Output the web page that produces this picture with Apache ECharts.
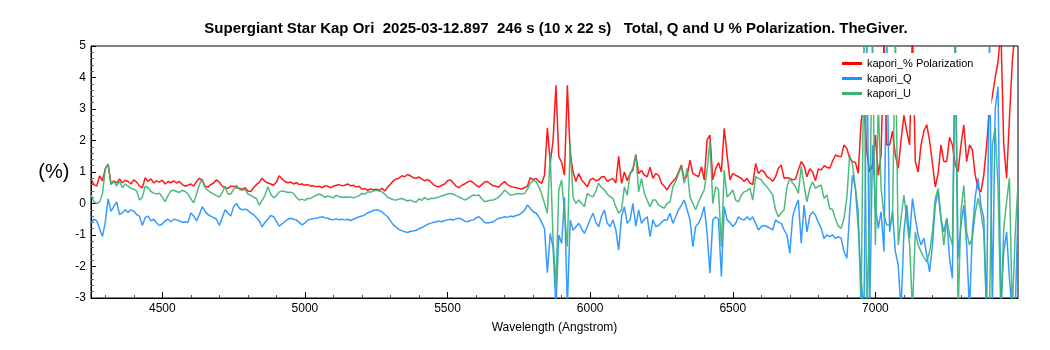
<!DOCTYPE html>
<html>
<head>
<meta charset="utf-8">
<script src="https://cdn.jsdelivr.net/npm/echarts@6/dist/echarts.min.js"></script>
<style>html,body{margin:0;padding:0;background:#fff}#chart{width:1050px;height:350px}</style>
</head>
<body>
<div id="chart"></div>
<script>
// Wavelength sampling grid (Angstrom)
const wlStart = 4250, wlStep = 10;

// % Polarization (total)
const polarization = [
0.78,0.6,0.55,0.88,0.72,1.1,1.25,0.62,0.72,0.65,
0.78,0.66,0.74,0.7,0.62,0.75,0.68,0.55,0.5,0.82,
0.7,0.78,0.65,0.72,0.68,0.74,0.62,0.7,0.66,0.72,
0.65,0.7,0.6,0.55,0.58,0.62,0.55,0.7,0.8,0.72,
0.55,0.52,0.6,0.65,0.75,0.68,0.55,0.5,0.48,0.55,
0.55,0.5,0.48,0.45,0.5,0.4,0.38,0.5,0.6,0.68,
0.8,0.7,0.65,0.62,0.58,0.68,0.88,0.78,0.7,0.66,
0.68,0.62,0.66,0.6,0.62,0.58,0.6,0.55,0.56,0.53,
0.55,0.5,0.56,0.55,0.5,0.55,0.58,0.6,0.56,0.58,
0.62,0.56,0.58,0.52,0.55,0.45,0.48,0.42,0.46,0.44,
0.45,0.42,0.48,0.4,0.52,0.62,0.72,0.78,0.8,0.88,
0.85,0.92,0.88,0.82,0.8,0.84,0.78,0.72,0.76,0.7,
0.6,0.55,0.53,0.58,0.62,0.72,0.75,0.66,0.55,0.5,
0.58,0.62,0.68,0.72,0.66,0.58,0.52,0.6,0.68,0.7,
0.62,0.56,0.55,0.52,0.62,0.7,0.6,0.55,0.52,0.5,
0.48,0.46,0.5,0.55,0.82,0.75,0.8,0.7,0.64,0.9,
2.4,1.3,2.0,3.75,1.5,1.3,0.9,3.75,1.6,1.0,
0.7,0.95,0.75,0.64,0.53,0.75,0.8,0.72,0.75,0.85,
0.85,0.7,0.75,0.8,0.65,1.5,0.64,1.0,0.72,0.95,
1.06,1.55,0.95,1.05,0.9,0.85,1.15,0.8,0.95,0.9,
0.64,0.55,0.43,0.6,0.7,0.8,1.0,1.22,0.75,0.9,
1.38,0.95,0.9,0.85,1.17,0.75,2.02,2.17,0.75,1.1,
1.3,1.0,2.39,1.55,0.75,0.95,0.9,0.85,0.8,0.7,
0.8,0.65,0.6,1.27,0.95,1.06,1.0,0.85,0.8,0.7,
0.85,1.12,1.22,0.8,0.82,0.8,0.75,0.78,1.06,1.33,
1.2,0.85,1.1,1.0,0.72,1.1,1.06,1.2,1.15,1.12,
1.35,1.54,1.5,1.48,1.86,1.75,1.43,1.33,1.3,0.96,
2.6,3.2,1.65,1.0,1.22,2.17,0.9,1.54,5.2,1.86,
1.86,2.3,1.54,1.12,2.0,2.8,2.3,1.86,5.5,1.33,
1.0,1.86,2.3,2.5,2.0,1.27,0.53,0.96,1.86,1.33,
1.33,2.1,1.86,1.22,1.01,1.86,2.5,1.33,1.86,1.7,
0.9,0.48,0.37,0.9,1.86,3.0,3.4,4.0,4.5,5.5,
1.86,0.8,2.7,4.5,5.5,5.2
];

// Q %
const stokesQ = [
-0.62,-0.5,-0.55,-0.8,-1.05,-0.6,0.15,-0.25,-0.1,0.05,
-0.35,-0.3,-0.2,-0.28,-0.2,-0.25,-0.35,-0.4,-0.7,-0.45,
-0.4,-0.55,-0.5,-0.62,-0.7,-0.65,-0.55,-0.5,-0.58,-0.5,
-0.52,-0.55,-0.6,-0.58,-0.6,-0.3,-0.4,-0.55,-0.35,-0.1,
-0.25,-0.35,-0.4,-0.45,-0.5,-0.7,-0.45,-0.2,-0.3,-0.4,
-0.1,0.0,-0.15,-0.2,-0.18,-0.22,-0.3,-0.35,-0.45,-0.55,
-0.74,-0.6,-0.5,-0.38,-0.42,-0.57,-0.72,-0.65,-0.57,-0.5,
-0.47,-0.5,-0.52,-0.6,-0.68,-0.62,-0.52,-0.5,-0.48,-0.47,
-0.44,-0.42,-0.45,-0.47,-0.5,-0.52,-0.48,-0.52,-0.5,-0.52,
-0.5,-0.54,-0.5,-0.46,-0.42,-0.4,-0.36,-0.3,-0.26,-0.22,
-0.2,-0.22,-0.26,-0.35,-0.42,-0.55,-0.68,-0.75,-0.82,-0.86,
-0.9,-0.92,-0.88,-0.87,-0.85,-0.8,-0.76,-0.72,-0.66,-0.63,
-0.6,-0.58,-0.56,-0.58,-0.54,-0.52,-0.5,-0.53,-0.48,-0.47,
-0.5,-0.56,-0.58,-0.54,-0.52,-0.46,-0.42,-0.5,-0.6,-0.62,
-0.6,-0.58,-0.52,-0.47,-0.45,-0.42,-0.44,-0.4,-0.42,-0.38,
-0.36,-0.3,-0.22,-0.05,-0.15,-0.26,-0.3,-0.42,-0.6,-0.8,
-2.2,-0.95,-1.4,-3.3,-1.0,-1.27,0.2,-3.3,-0.52,-0.85,
-0.74,-0.63,-0.8,-0.95,-0.74,-0.5,-0.31,-0.6,-0.74,-0.4,
-0.21,-0.63,-0.73,-0.52,-0.84,-1.48,-0.42,-0.1,-0.63,-0.52,
0.0,-0.73,-0.2,-0.63,-0.5,-0.42,-1.05,-0.52,-0.73,-0.7,
-0.6,-0.52,-0.52,-0.31,-0.63,-0.42,-0.2,-0.05,0.11,-0.2,
-0.52,-1.37,-0.73,-0.63,-0.42,-0.1,-0.94,-2.21,-0.52,-0.42,
-0.5,-2.32,-0.1,-0.52,-0.6,-0.73,-0.63,-0.42,-0.5,-0.52,
-0.42,-0.52,-0.42,-0.63,-0.84,-0.73,-0.7,-0.73,-0.78,-0.84,
-0.52,-0.6,-0.63,-0.84,-1.0,-1.58,-0.42,-0.1,0.11,-1.26,
-0.05,-0.9,-0.4,-0.26,-0.37,-0.6,-0.79,-1.11,-1.0,-1.05,
-1.0,-1.11,-1.05,-1.11,-1.53,-1.74,-0.26,0.9,0.48,-0.79,
-2.4,-3.5,5.5,-3.5,1.86,-0.05,-0.79,-0.26,-1.53,5.3,
-0.9,-0.26,-1.53,-1.95,-3.4,-0.9,-0.05,-1.11,0.16,-0.47,
-1.0,-1.32,-1.1,-1.64,-2.17,-1.32,-0.05,0.37,-0.5,-0.9,
-0.47,-1.74,-2.38,5.5,-1.74,-0.68,-0.05,-1.32,-3.4,-0.9,
0.2,0.8,-0.05,-0.47,-3.5,5.5,-3.5,3.0,3.7,-3.4,
-1.53,-0.9,-2.38,-3.5,-3.5,-0.26
];

// U %
const stokesU = [
0.27,0.05,0.0,0.05,0.3,1.1,1.25,0.6,0.7,0.55,
0.7,0.5,0.62,0.55,0.48,0.45,0.4,0.11,0.2,0.55,
0.5,0.38,0.33,0.3,0.33,0.2,0.06,0.25,0.4,0.42,
0.38,0.35,0.42,0.38,0.3,0.15,0.02,0.3,0.6,0.78,
0.5,0.42,0.35,0.3,0.25,0.2,0.35,0.55,0.3,0.3,
0.45,0.58,0.45,0.42,0.45,0.3,0.26,0.2,0.16,-0.05,
0.1,0.26,0.53,0.3,0.18,0.25,0.37,0.4,0.38,0.35,
0.36,0.32,0.2,0.11,0.14,0.1,0.16,0.16,0.22,0.26,
0.3,0.26,0.2,0.24,0.21,0.18,0.26,0.22,0.2,0.21,
0.2,0.21,0.18,0.21,0.25,0.32,0.3,0.37,0.36,0.4,
0.42,0.4,0.37,0.3,0.2,0.16,0.12,0.11,0.14,0.16,
0.12,0.08,0.11,0.06,0.05,0.15,0.1,0.2,0.12,0.16,
0.16,0.18,0.21,0.24,0.27,0.3,0.32,0.3,0.25,0.21,
0.16,0.11,0.15,0.22,0.27,0.25,0.27,0.15,0.06,0.08,
0.1,0.11,0.15,0.21,0.3,0.43,0.35,0.27,0.28,0.3,
0.32,0.3,0.32,0.45,0.64,0.72,0.7,0.53,0.3,0.0,
-0.31,1.59,-1.16,-2.64,0.43,0.75,-0.3,-1.37,1.9,0.2,
0.0,0.11,0.0,-0.1,0.32,0.25,0.21,0.4,0.64,0.5,
0.43,0.3,0.21,0.16,-0.1,-0.31,-0.2,0.53,0.26,0.95,
1.12,1.55,0.37,0.8,0.32,0.1,-0.1,0.11,0.11,-0.05,
-0.1,-0.15,0.0,0.05,0.53,0.7,0.95,1.17,0.64,1.12,
0.21,0.0,-0.2,0.05,0.25,0.43,1.06,1.96,0.0,0.53,
0.45,-1.37,1.06,0.21,0.3,0.43,0.11,0.05,0.27,0.37,
0.4,0.48,0.11,0.85,0.8,0.75,0.62,0.53,0.4,0.27,
-0.2,-0.42,-0.3,-0.2,0.53,0.8,0.65,0.53,0.32,1.17,
0.58,0.05,0.48,0.69,0.48,0.55,0.58,0.16,0.27,-0.16,
-0.2,-0.5,-0.72,-0.79,-0.47,0.2,1.54,1.22,0.48,-0.26,
-3.5,5.5,-3.5,-0.26,5.5,-1.32,3.2,0.48,-0.37,-0.68,
-0.68,-0.5,5.5,-1.32,-0.47,0.27,-0.5,-1.32,-3.4,-0.9,
-1.32,-1.53,-1.7,-1.85,-1.53,-0.9,0.16,0.48,-0.47,-1.32,
-0.47,-1.0,-1.32,5.5,-3.5,-0.26,0.58,-0.9,-1.32,-1.1,
-0.3,0.16,-0.26,-0.9,-3.5,-3.4,1.86,2.4,0.5,-3.5,
-0.79,0.06,0.8,-3.5,-1.0,0.6
];

const seriesNames = ['kapori_% Polarization', 'kapori_Q', 'kapori_U'];
const seriesColors = ['#ff0000', '#1e90ff', '#3cb371'];
const xMajorTicks = [4500, 5000, 5500, 6000, 6500, 7000];
const xMinorTicks = [4300,4400,4600,4700,4800,4900,5100,5200,5300,5400,5600,5700,5800,5900,6100,6200,6300,6400,6600,6700,6800,6900,7100,7200,7300,7400];
const titleText = 'Supergiant Star Kap Ori  2025-03-12.897  246 s (10 x 22 s)   Total, Q and U % Polarization. TheGiver.';

if (polarization.length !== stokesQ.length || stokesQ.length !== stokesU.length) {
  throw new Error('length mismatch ' + polarization.length + ' ' + stokesQ.length + ' ' + stokesU.length);
}
const wavelengths = polarization.map((_, i) => wlStart + i * wlStep);

const FONT = 'Liberation Sans, Arial, sans-serif';
const chart = echarts.init(document.getElementById('chart'), null, {renderer: 'canvas'});

const mk = (arr) => arr.map((v, i) => [wavelengths[i], v]);
const allData = [polarization, stokesQ, stokesU];

const option = {
  animation: false,
  backgroundColor: '#ffffff',
  title: {
    text: titleText,
    left: 551, top: 16, textAlign: 'center',
    textStyle: {fontFamily: FONT, fontSize: 15, fontWeight: 'bold', color: '#000'}
  },
  grid: {left: 91, right: 32, top: 46, bottom: 52, show: true, borderColor: '#000', borderWidth: 1, backgroundColor: 'transparent'},
  legend: {
    orient: 'vertical', left: 835, top: 53,
    padding: [5, 18, 16, 7],
    backgroundColor: '#ffffff',
    borderWidth: 0,
    z: 50, zlevel: 0,
    itemWidth: 20, itemHeight: 12, itemGap: 4,
    icon: 'path://M0,0 L20,0 L20,3 L0,3 Z',
    textStyle: {fontFamily: FONT, fontSize: 11, color: '#000'},
    data: seriesNames
  },
  xAxis: [{
    type: 'value', min: 4250, max: 7500, position: 'bottom',
    name: 'Wavelength (Angstrom)', nameLocation: 'middle', nameGap: 24,
    nameTextStyle: {fontFamily: FONT, fontSize: 12, color: '#000'},
    axisLine: {show: true, onZero: false, lineStyle: {color: '#000', width: 1}},
    axisTick: {show: true, inside: true, length: 6, customValues: xMajorTicks, lineStyle: {color: '#000'}},
    axisLabel: {customValues: xMajorTicks, fontFamily: FONT, fontSize: 12, color: '#000', margin: 5,
      formatter: (v) => String(v)},
    splitLine: {show: false}
  }, {
    type: 'value', min: 4250, max: 7500, position: 'bottom',
    axisLine: {show: false, onZero: false},
    axisTick: {show: true, inside: true, length: 3, customValues: xMinorTicks, lineStyle: {color: '#555'}},
    axisLabel: {show: false},
    splitLine: {show: false}
  }],
  yAxis: {
    type: 'value', min: -3, max: 5, interval: 1,
    name: '(%)', nameLocation: 'middle', nameRotate: 0, nameGap: 18,
    nameTextStyle: {fontFamily: FONT, fontSize: 20, color: '#000'},
    axisLine: {show: true, onZero: false, lineStyle: {color: '#000', width: 1}},
    axisTick: {show: true, inside: true, length: 5, lineStyle: {color: '#000'}},
    minorTick: {show: true, splitNumber: 5, length: 3, lineStyle: {color: '#666'}},
    axisLabel: {fontFamily: FONT, fontSize: 12, color: '#000', margin: 5},
    splitLine: {show: false}
  },
  series: seriesNames.map((name, k) => ({
    name: name, type: 'line', xAxisIndex: 0,
    data: mk(allData[k]),
    symbol: 'none', showSymbol: false, sampling: null,
    clip: true,
    lineStyle: {color: seriesColors[k], width: 1.5, opacity: 0.9},
    itemStyle: {color: seriesColors[k]},
    z: 2
  }))
};
chart.setOption(option);
</script>
</body>
</html>
